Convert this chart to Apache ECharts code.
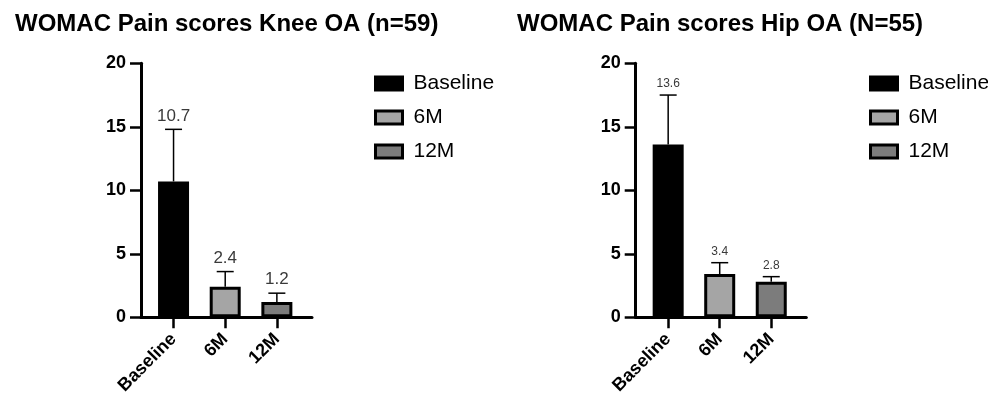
<!DOCTYPE html>
<html>
<head>
<meta charset="utf-8">
<script src="https://cdn.jsdelivr.net/npm/echarts@6/dist/echarts.min.js"></script>
<style>html,body{margin:0;padding:0;background:#fff}#c{width:988px;height:400px}</style>
</head>
<body>
<div id="c"></div>
<script>
const categories = ['Baseline', '6M', '12M'];
const kneeTitle = 'WOMAC Pain scores Knee OA (n=59)';
const hipTitle = 'WOMAC Pain scores Hip OA (N=55)';
const kneeMeans = [10.7, 2.4, 1.2];
const kneeErrTop = [14.8, 3.6, 1.9];
const hipMeans = [13.6, 3.4, 2.8];
const hipErrTop = [17.5, 4.3, 3.2];
const yTicks = [0, 5, 10, 15, 20];

const FONT = '"Liberation Sans", Arial, sans-serif';
const colors = ['#000000', '#a5a5a5', '#7c7c7c'];

const chart = echarts.init(document.getElementById('c'), null, {renderer: 'canvas'});

function makeAxes(gridIndex) {
  const x = {
    type: 'value', gridIndex, min: -0.63, max: 2.68,
    splitLine: {show: false},
    axisLine: {show: true, onZero: false, lineStyle: {color: '#000', width: 3}},
    axisTick: {show: true, customValues: [0, 1, 2], length: 11, lineStyle: {color: '#000', width: 2.5}},
    axisLabel: {show: true, customValues: [0, 1, 2], rotate: 45, margin: 19,
      formatter: v => categories[Math.round(v)] || '',
      fontFamily: FONT, fontWeight: 'bold', fontSize: 18, color: '#000'}
  };
  const y = {
    type: 'value', gridIndex, min: 0, max: 20, interval: 5,
    splitLine: {show: false},
    axisLine: {show: true, onZero: false, lineStyle: {color: '#000', width: 3}},
    axisTick: {show: true, length: 11, lineStyle: {color: '#000', width: 2.5}},
    axisLabel: {margin: 15, fontFamily: FONT, fontWeight: 'bold', fontSize: 18, color: '#000',
      formatter: v => yTicks.includes(v) ? String(v) : ''}
  };
  return {x, y};
}

function barSeries(gridIndex, means) {
  return categories.map((name, i) => ({
    type: 'bar', name, xAxisIndex: gridIndex, yAxisIndex: gridIndex,
    barWidth: 31, barGap: '-100%',
    data: [[i, means[i]]],
    itemStyle: {color: colors[i], borderColor: '#000', borderWidth: 3},
    emphasis: {disabled: true},
    z: 2
  }));
}

function errSeries(gridIndex, means, tops, fontSize, labelGap) {
  return {
    type: 'custom', xAxisIndex: gridIndex, yAxisIndex: gridIndex,
    data: means.map((m, i) => [i, m, tops[i]]),
    z: 1,
    renderItem: (params, api) => {
      const base = api.coord([api.value(0), api.value(1)]);
      const top = api.coord([api.value(0), api.value(2)]);
      const half = 8.5;
      return {
        type: 'group',
        children: [
          {type: 'line', shape: {x1: base[0], y1: base[1], x2: top[0], y2: top[1]}, style: {stroke: '#000', lineWidth: 1.5}},
          {type: 'line', shape: {x1: top[0] - half, y1: top[1], x2: top[0] + half, y2: top[1]}, style: {stroke: '#000', lineWidth: 1.5}},
          {type: 'text', x: top[0], y: top[1] - labelGap,
            style: {text: String(means[params.dataIndex]), fill: '#3a3a3a', font: fontSize + 'px ' + FONT, align: 'center', verticalAlign: 'bottom'}}
        ]
      };
    }
  };
}

const a0 = makeAxes(0), a1 = makeAxes(1);

const legendBase = {
  orient: 'vertical', itemWidth: 27, itemHeight: 13, itemGap: 13, icon: 'rect',
  textStyle: {fontFamily: FONT, fontSize: 21, color: '#000', padding: [0, 0, 0, 6]},
  itemStyle: {borderColor: '#000', borderWidth: 3},
  data: categories
};

chart.setOption({
  animation: false,
  title: [
    {text: kneeTitle, left: 10, top: 7, textStyle: {fontFamily: FONT, fontWeight: 'bold', fontSize: 24, color: '#000'}},
    {text: hipTitle, left: 512, top: 7, textStyle: {fontFamily: FONT, fontWeight: 'bold', fontSize: 24, color: '#000'}}
  ],
  legend: [
    Object.assign({}, legendBase, {left: 369, top: 68}),
    Object.assign({}, legendBase, {left: 864, top: 68})
  ],
  grid: [
    {left: 141, right: 676, top: 63.3, bottom: 82.7},
    {left: 635.7, right: 181.7, top: 63.3, bottom: 82.7}
  ],
  xAxis: [a0.x, a1.x],
  yAxis: [a0.y, a1.y],
  series: [
    ...barSeries(0, kneeMeans),
    ...barSeries(1, hipMeans),
    errSeries(0, kneeMeans, kneeErrTop, 17, 5),
    errSeries(1, hipMeans, hipErrTop, 12, 5)
  ]
});
</script>
</body>
</html>
